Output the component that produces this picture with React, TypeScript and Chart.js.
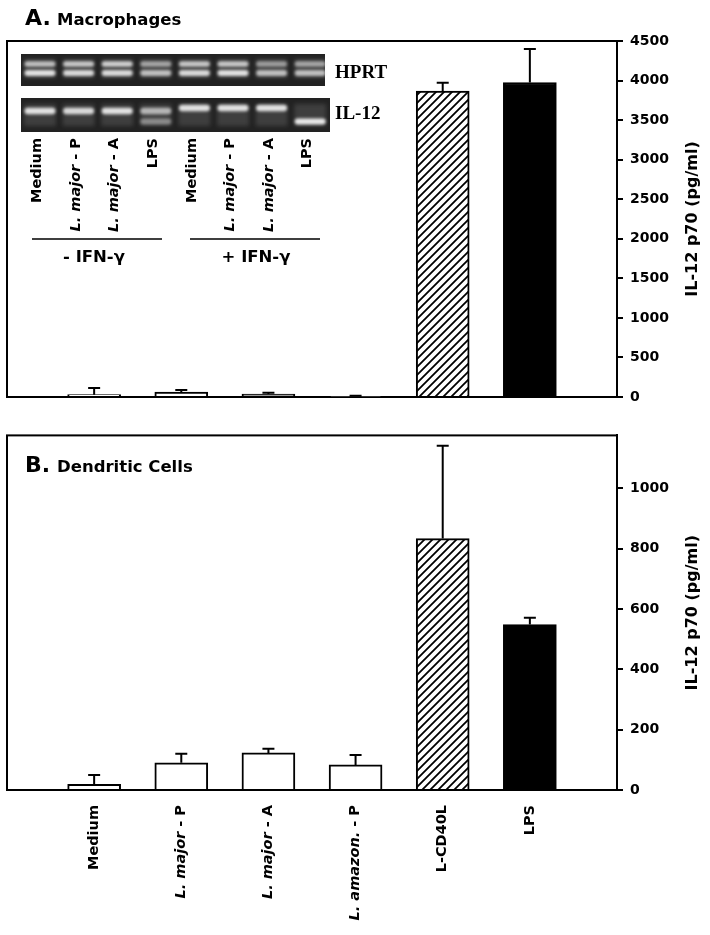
import React, { useEffect, useRef } from 'react';
import { Chart, registerables } from 'chart.js';

Chart.register(...registerables);

// ---------------- data ----------------
const categories = ['Medium', 'L. major - P', 'L. major - A', 'L. amazon. - P', 'L-CD40L', 'LPS'];
const macrophageMeans = [30, 63, 38, 2, 3866, 3975];
const macrophageErrTops = [114, 89, 55, 16, 3972, 4398];
const dendriticMeans = [19, 90, 123, 83, 833, 548];
const dendriticErrTops = [50, 120, 137, 116, 1141, 571];
const macrophageTicks = [0, 500, 1000, 1500, 2000, 2500, 3000, 3500, 4000, 4500];
const dendriticTicks = [0, 200, 400, 600, 800, 1000];
const macrophageMax = 4500;
const dendriticMax = 1175;

const gelLaneLabels = ['Medium', 'L. major - P', 'L. major - A', 'LPS', 'Medium', 'L. major - P', 'L. major - A', 'LPS'];
const gelGroupLabels = ['- IFN-\u03B3', '+ IFN-\u03B3'];
const gelRowLabels = ['HPRT', 'IL-12'];
const hprtUpperBand = [0.75, 0.8, 0.85, 0.6, 0.8, 0.8, 0.55, 0.6];
const hprtLowerBand = [0.95, 0.9, 0.9, 0.75, 0.9, 0.95, 0.75, 0.75];
const il12UpperBand = [0.95, 0.9, 0.95, 0.7, 0.95, 0.95, 0.95, 0];
const il12LowerBand = [0, 0, 0, 0.45, 0, 0, 0, 1];

const panelATitle = ['A.', 'Macrophages'];
const panelBTitle = ['B.', 'Dendritic Cells'];
const yAxisTitle = 'IL-12 p70 (pg/ml)';

// ---------------- styles ----------------
const FAMILY = '"DejaVu Sans", sans-serif';
const fillsA = ['#ffffff', '#ffffff', '#9a9a9a', '#444444', 'HATCH', '#000000'];
const fillsB = ['#ffffff', '#ffffff', '#ffffff', '#ffffff', 'HATCH', '#000000'];

function makeHatch(): CanvasPattern | string {
  const c = document.createElement('canvas');
  c.width = 8;
  c.height = 8;
  const g = c.getContext('2d');
  if (!g) return '#888';
  g.fillStyle = '#fff';
  g.fillRect(0, 0, 8, 8);
  g.strokeStyle = '#000';
  g.lineWidth = 1.8;
  g.beginPath();
  g.moveTo(-2, 10); g.lineTo(10, -2);
  g.moveTo(-2, 2); g.lineTo(2, -2);
  g.moveTo(6, 10); g.lineTo(10, 6);
  g.stroke();
  return g.createPattern(c, 'repeat') || '#888';
}

function segments(label: string) {
  if (label.startsWith('L. ') && label.includes(' - ')) {
    const k = label.indexOf(' - ');
    return [
      { text: label.slice(0, k), italic: true },
      { text: label.slice(k), italic: false },
    ];
  }
  return [{ text: label, italic: false }];
}

function drawVertical(ctx: CanvasRenderingContext2D, label: string, cx: number, topY: number, size: number) {
  const segs = segments(label);
  const font = (it: boolean) => `${it ? 'italic ' : ''}bold ${size}px ${FAMILY}`;
  let total = 0;
  const widths = segs.map((s) => {
    ctx.font = font(s.italic);
    const w = ctx.measureText(s.text).width;
    total += w;
    return w;
  });
  ctx.save();
  ctx.translate(cx, topY);
  ctx.rotate(-Math.PI / 2);
  ctx.textBaseline = 'middle';
  ctx.textAlign = 'left';
  ctx.fillStyle = '#000';
  let pos = -total;
  segs.forEach((s, j) => {
    ctx.font = font(s.italic);
    ctx.fillText(s.text, pos, 0);
    pos += widths[j];
  });
  ctx.restore();
}

function drawAxisTitle(chart: any) {
  const ctx = chart.ctx as CanvasRenderingContext2D;
  const { top, bottom } = chart.chartArea;
  ctx.save();
  ctx.translate(693, (top + bottom) / 2);
  ctx.rotate(-Math.PI / 2);
  ctx.font = `bold 16px ${FAMILY}`;
  ctx.textAlign = 'center';
  ctx.textBaseline = 'middle';
  ctx.fillStyle = '#000';
  ctx.fillText(yAxisTitle, 0, 0);
  ctx.restore();
}

function drawTitle(ctx: CanvasRenderingContext2D, parts: string[], baseline: number) {
  ctx.save();
  ctx.fillStyle = '#000';
  ctx.textBaseline = 'alphabetic';
  ctx.textAlign = 'left';
  ctx.font = `bold 22px ${FAMILY}`;
  ctx.fillText(parts[0], 25, baseline);
  ctx.font = `bold 16.5px ${FAMILY}`;
  ctx.fillText(parts[1], 57, baseline);
  ctx.restore();
}

function band(ctx: CanvasRenderingContext2D, cx: number, cy: number, a: number, h: number) {
  if (!a) return;
  ctx.fillStyle = `rgba(235,235,235,${a})`;
  ctx.beginPath();
  (ctx as any).roundRect(cx - 15.5, cy - h / 2, 31, h, h / 2);
  ctx.fill();
}

function drawGel(ctx: CanvasRenderingContext2D) {
  const laneX = (i: number) => 40 + i * 38.6;
  ctx.save();
  ctx.fillStyle = '#222222';
  ctx.fillRect(21, 54, 304, 32);
  ctx.fillRect(21, 98, 309, 34);
  ctx.filter = 'blur(2px)';
  ctx.fillStyle = 'rgba(255,255,255,0.13)';
  for (let i = 0; i < 8; i++) {
    ctx.fillRect(laneX(i) - 16, 59, 32, 19);
    ctx.fillRect(laneX(i) - 16, 104, 32, 22);
  }
  ctx.filter = 'blur(1.4px)';
  for (let i = 0; i < 8; i++) {
    band(ctx, laneX(i), 64, hprtUpperBand[i], 5.5);
    band(ctx, laneX(i), 73, hprtLowerBand[i], 6);
    band(ctx, laneX(i), i >= 4 ? 108 : 111, il12UpperBand[i], 6.5);
    band(ctx, laneX(i), 121.5, il12LowerBand[i], 6);
  }
  ctx.filter = 'none';
  ctx.restore();

  // row labels
  ctx.save();
  ctx.fillStyle = '#000';
  ctx.font = 'bold 19px "Liberation Serif", serif';
  ctx.textAlign = 'left';
  ctx.textBaseline = 'alphabetic';
  ctx.fillText(gelRowLabels[0], 335, 78);
  ctx.fillText(gelRowLabels[1], 335, 119);
  ctx.restore();

  gelLaneLabels.forEach((lab, i) => drawVertical(ctx, lab, laneX(i) - 2.5, 138, 14.5));

  // group lines & labels
  ctx.save();
  ctx.strokeStyle = '#000';
  ctx.lineWidth = 1.5;
  ctx.beginPath();
  ctx.moveTo(32, 239); ctx.lineTo(162, 239);
  ctx.moveTo(190, 239); ctx.lineTo(320, 239);
  ctx.stroke();
  ctx.fillStyle = '#000';
  ctx.font = `bold 16.5px ${FAMILY}`;
  ctx.textAlign = 'center';
  ctx.textBaseline = 'alphabetic';
  ctx.fillText(gelGroupLabels[0], 94, 262);
  ctx.fillText(gelGroupLabels[1], 256, 262);
  ctx.restore();
}

function makeConfig(o: {
  means: number[];
  errTops: number[];
  ticks: number[];
  max: number;
  fills: (string | CanvasPattern)[];
  padTop: number;
  xHeight: number;
  extraDraw: (chart: any) => void;
}): any {
  const labels = ['', ...categories, ''];
  const data = [null, ...o.means, null];
  const bg = ['rgba(0,0,0,0)', ...o.fills, 'rgba(0,0,0,0)'];
  return {
    type: 'bar',
    data: {
      labels,
      datasets: [
        {
          data,
          backgroundColor: bg,
          borderColor: '#000',
          borderWidth: 2,
          barThickness: 53,
        },
      ],
    },
    options: {
      responsive: false,
      animation: false,
      devicePixelRatio: 1,
      layout: { padding: { left: 7, top: o.padTop, right: 0, bottom: 0 } },
      plugins: { legend: { display: false }, tooltip: { enabled: false } },
      scales: {
        x: {
          type: 'category',
          offset: false,
          grid: { display: false },
          ticks: { display: false },
          border: { display: true, color: '#000', width: 2 },
          afterFit: (s: any) => { s.height = o.xHeight; },
        },
        y: {
          position: 'right',
          min: 0,
          max: o.max,
          afterBuildTicks: (s: any) => { s.ticks = o.ticks.map((v) => ({ value: v })); },
          ticks: {
            color: '#000',
            font: { family: FAMILY, size: 14, weight: 'bold' },
            padding: 7,
            callback: (v: any) => String(v),
          },
          grid: { drawOnChartArea: false, drawTicks: true, tickLength: 6, color: '#000', lineWidth: 2 },
          border: { color: '#000', width: 2 },
          afterFit: (s: any) => { s.width = 93; },
        },
      },
    },
    plugins: [
      {
        id: 'frame',
        beforeDatasetsDraw(chart: any) {
          const { left, top, right, bottom } = chart.chartArea;
          const ctx = chart.ctx;
          ctx.save();
          ctx.strokeStyle = '#000';
          ctx.lineWidth = 2;
          ctx.strokeRect(left, top, right - left, bottom - top);
          ctx.restore();
        },
      },
      {
        id: 'errorBars',
        afterDatasetsDraw(chart: any) {
          const meta = chart.getDatasetMeta(0);
          const y = chart.scales.y;
          const ctx = chart.ctx;
          ctx.save();
          ctx.strokeStyle = '#000';
          ctx.lineWidth = 2;
          o.errTops.forEach((e, i) => {
            const bar = meta.data[i + 1];
            if (!bar) return;
            const ey = y.getPixelForValue(e);
            ctx.beginPath();
            ctx.moveTo(bar.x, bar.y);
            ctx.lineTo(bar.x, ey);
            ctx.moveTo(bar.x - 6, ey);
            ctx.lineTo(bar.x + 6, ey);
            ctx.stroke();
          });
          ctx.restore();
        },
      },
      {
        id: 'extras',
        afterDraw(chart: any) {
          drawAxisTitle(chart);
          o.extraDraw(chart);
        },
      },
    ],
  };
}

export default function App() {
  const refA = useRef<HTMLCanvasElement>(null);
  const refB = useRef<HTMLCanvasElement>(null);

  useEffect(() => {
    const hatch = makeHatch();
    const fa = fillsA.map((f) => (f === 'HATCH' ? hatch : f));
    const fb = fillsB.map((f) => (f === 'HATCH' ? hatch : f));

    const chartA = new Chart(
      refA.current as HTMLCanvasElement,
      makeConfig({
        means: macrophageMeans,
        errTops: macrophageErrTops,
        ticks: macrophageTicks,
        max: macrophageMax,
        fills: fa,
        padTop: 41,
        xHeight: 23,
        extraDraw: (chart) => {
          drawTitle(chart.ctx, panelATitle, 25);
          drawGel(chart.ctx);
        },
      })
    );

    const chartB = new Chart(
      refB.current as HTMLCanvasElement,
      makeConfig({
        means: dendriticMeans,
        errTops: dendriticErrTops,
        ticks: dendriticTicks,
        max: dendriticMax,
        fills: fb,
        padTop: 14,
        xHeight: 145,
        extraDraw: (chart) => {
          drawTitle(chart.ctx, panelBTitle, 52);
          const meta = chart.getDatasetMeta(0);
          const top = chart.chartArea.bottom + 15;
          categories.forEach((lab, i) => {
            const bar = meta.data[i + 1];
            if (bar) drawVertical(chart.ctx, lab, bar.x, top, 14.5);
          });
        },
      })
    );

    return () => {
      chartA.destroy();
      chartB.destroy();
    };
  }, []);

  return (
    <div style={{ position: 'absolute', left: 0, top: 0, width: 710, height: 935, background: '#fff' }}>
      <canvas ref={refA} width={710} height={420} style={{ position: 'absolute', left: 0, top: 0, width: 710, height: 420 }} />
      <canvas ref={refB} width={710} height={515} style={{ position: 'absolute', left: 0, top: 420, width: 710, height: 515 }} />
    </div>
  );
}
